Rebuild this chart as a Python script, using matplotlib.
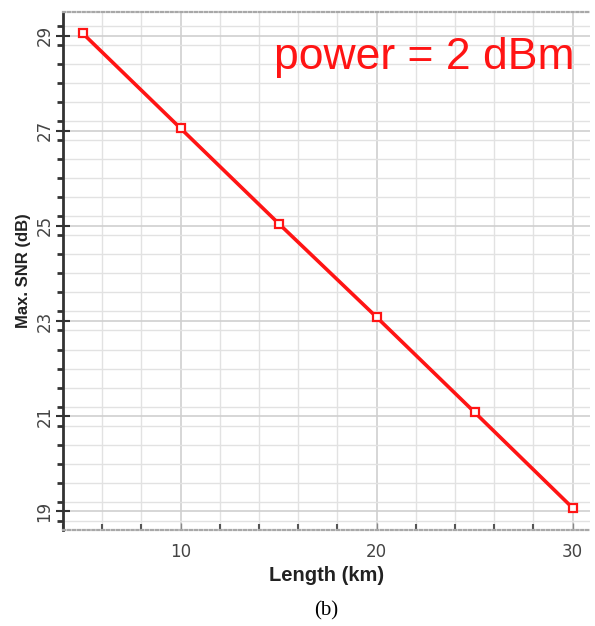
import matplotlib.pyplot as plt
from matplotlib.ticker import MultipleLocator

# valores
comprimento_km = [5, 10, 15, 20, 25, 30]
snr_max_db = [29.05, 27.05, 25.05, 23.08, 21.08, 19.07]
rotulo_potencia = 'power = 2 dBm'

fig = plt.figure(figsize=(5.95, 6.26), dpi=100)
ax = fig.add_axes([0.106, 0.153, 0.886, 0.828])

ax.plot(comprimento_km, snr_max_db, '-', color='#ff1414', lw=2.6,
        marker='s', ms=6, mfc='white', mec='#ff1414', mew=1.6, zorder=3)

ax.set_xlim(4.0, 30.9)
ax.set_ylim(18.6, 29.5)

ax.xaxis.set_major_locator(MultipleLocator(10))
ax.xaxis.set_minor_locator(MultipleLocator(2))
ax.yaxis.set_major_locator(MultipleLocator(2))
ax.yaxis.set_minor_locator(MultipleLocator(0.4))
ax.set_yticks([19, 21, 23, 25, 27, 29])

# grade
ax.grid(True, which='minor', color='#e2e2e2', lw=1.0)
ax.grid(True, which='major', color='#cfcfcf', lw=1.2)
ax.set_axisbelow(True)

# eixos
ax.spines['left'].set_color('#333333')
ax.spines['left'].set_linewidth(2.0)
ax.spines['right'].set_visible(False)
for lado in ['top', 'bottom']:
    ax.spines[lado].set_color('#a8a8a8')
    ax.spines[lado].set_linestyle((0, (1, 1.2)))
    ax.spines[lado].set_linewidth(1.6)

ax.tick_params(axis='y', which='major', direction='inout', length=10, width=1.5,
               color='#333333', labelsize=12, labelcolor='#444444', pad=2)
ax.tick_params(axis='y', which='minor', direction='out', length=4, width=2.0, color='#333333')
ax.tick_params(axis='x', which='major', direction='in', length=5, width=1,
               color='#888888', labelsize=12, labelcolor='#444444', pad=9)
ax.tick_params(axis='x', which='minor', direction='in', length=4, width=1.5, color='#555555')
for lab in ax.get_yticklabels():
    lab.set_rotation(90)
    lab.set_va('center')

ax.set_xlabel('Length (km)', fontsize=14.5, fontweight='bold', color='#222222',
              family='Liberation Sans', labelpad=4)
ax.set_ylabel('Max. SNR (dB)', fontsize=12, fontweight='bold', color='#222222',
              family='Liberation Sans', labelpad=3)

ax.text(0.685, 0.912, rotulo_potencia, transform=ax.transAxes, color='#ff1414',
        fontsize=32, family='Liberation Sans', ha='center', va='center')

fig.text(0.548, 0.016, '(b)', fontsize=15, family='Liberation Serif', ha='center')

plt.savefig('out.png', dpi=100)
